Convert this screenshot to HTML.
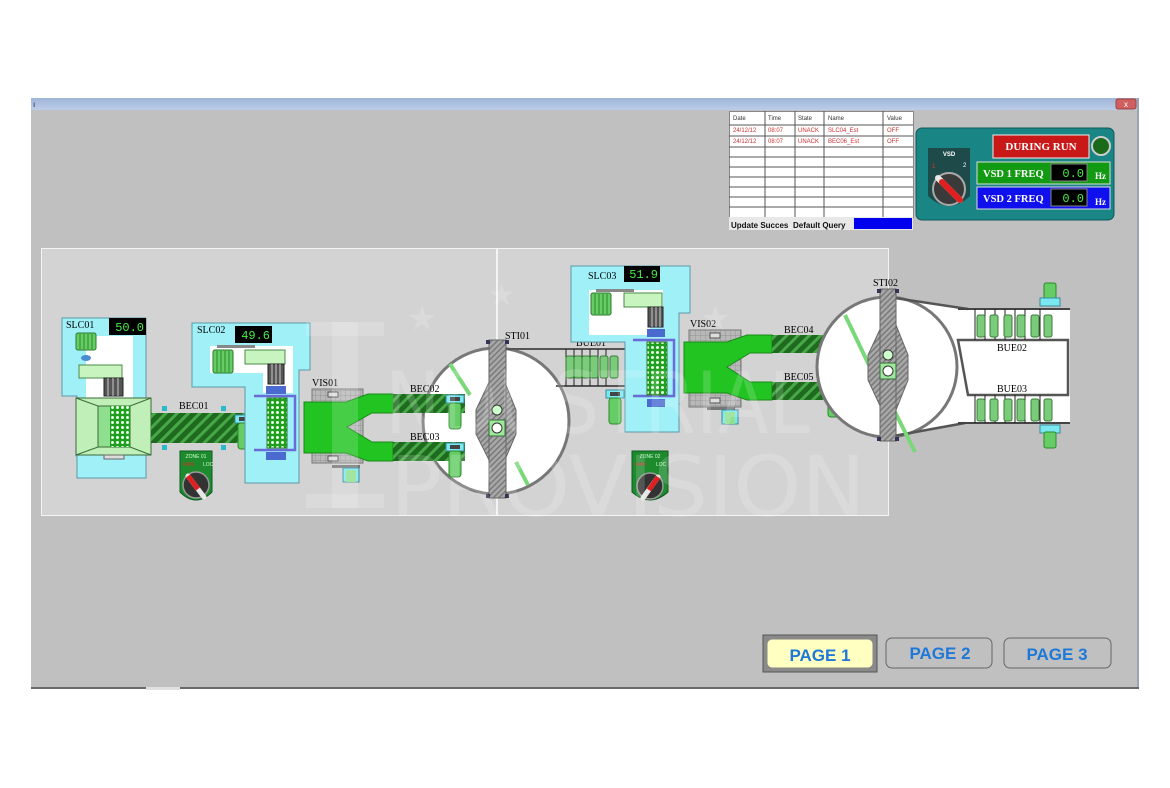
<!DOCTYPE html>
<html><head><meta charset="utf-8"><style>
html,body{margin:0;padding:0;background:#fff;}
body{width:1170px;height:788px;position:relative;overflow:hidden;font-family:"Liberation Sans",sans-serif;}
svg{position:absolute;left:0;top:0;}
</style></head><body>
<svg width="1170" height="788" viewBox="0 0 1170 788" xmlns="http://www.w3.org/2000/svg" font-family="Liberation Sans, sans-serif">
<defs>
<pattern id="belt" width="8" height="8" patternUnits="userSpaceOnUse" patternTransform="rotate(45)">
<rect width="8" height="8" fill="#1e6a1e"/><rect width="3" height="8" fill="#48a848"/>
</pattern>
<pattern id="grid" width="5" height="5" patternUnits="userSpaceOnUse">
<rect width="5" height="5" fill="#b8b8b8"/><path d="M0 0H5M0 0V5" stroke="#8a8a8a" stroke-width="0.7"/>
</pattern>
<pattern id="hatch" width="4" height="4" patternUnits="userSpaceOnUse" patternTransform="rotate(45)">
<rect width="4" height="4" fill="#a8a8a8"/><rect width="1.5" height="4" fill="#7a7a7a"/>
</pattern>
<pattern id="dots" width="5" height="5" patternUnits="userSpaceOnUse">
<rect width="5" height="5" fill="#1ea01e"/><circle cx="2.5" cy="2.5" r="1.5" fill="#e8ffe8"/>
</pattern>
<linearGradient id="tb" x1="0" y1="0" x2="0" y2="1"><stop offset="0" stop-color="#9fb4d8"/><stop offset="1" stop-color="#bccde8"/></linearGradient>
<g id="motorV">
<rect x="-9" y="0" width="18" height="8" fill="#7ae8f0" stroke="#3a8a9a"/>
<rect x="-5" y="2" width="10" height="4" fill="#444"/>
<rect x="-6" y="8" width="12" height="26" rx="3" fill="#66cc66" stroke="#2a8a2a"/>
</g>
<g id="roller"><rect x="-4" y="0" width="8" height="22" rx="2" fill="#7acc7a" stroke="#3a7a3a"/></g>
</defs>

<rect x="31" y="98" width="1107" height="591" fill="#c0c0c0"/>
<rect x="31" y="98" width="1107" height="12" fill="url(#tb)"/>
<text x="33" y="107" font-size="8" fill="#223">ı</text>
<rect x="1116" y="99" width="20" height="10" rx="2" fill="#d06060" stroke="#a04040"/>
<text x="1126" y="107" font-size="8" fill="#fff" text-anchor="middle">x</text>
<rect x="1137" y="98" width="2" height="591" fill="#9aa4b4"/>
<rect x="31" y="687" width="1108" height="2" fill="#6a6a6a"/>
<rect x="146" y="687" width="34" height="3" fill="#e0e0e0"/>

<rect x="41.5" y="248.5" width="455" height="267" fill="#d3d3d3" stroke="#f4f4f4"/>
<rect x="497.5" y="248.5" width="391" height="267" fill="#d3d3d3" stroke="#f4f4f4"/>

<!-- SLC01 -->
<path d="M62 318H146V478H77V456H76V398H77V396H62Z" fill="#a0f0f8" stroke="#5a9aa8"/>
<rect x="86" y="336" width="47" height="62" fill="#fff"/>
<rect x="109" y="318" width="37" height="17" fill="#000"/>
<text x="144" y="331" font-size="12" fill="#44ee44" text-anchor="end" font-family="Liberation Mono, monospace">50.0</text>
<text x="66" y="328" font-size="10" fill="#000" font-family="Liberation Serif, serif">SLC01</text>
<rect x="76" y="333" width="20" height="17" rx="2" fill="#66cc66" stroke="#2a7a2a"/>
<path d="M80 334V349M84 334V349M88 334V349M92 334V349" stroke="#2a8a2a"/>
<ellipse cx="86" cy="358" rx="5" ry="3" fill="#4a8ad0"/>
<rect x="79" y="365" width="43" height="13" fill="#c8f4c0" stroke="#4a8a4a"/>
<rect x="104" y="378" width="19" height="18" fill="#555" stroke="#222"/>
<path d="M108 378V396M113 378V396M118 378V396" stroke="#ccc"/>
<rect x="76" y="398" width="75" height="57" fill="#c0f0b8" stroke="#3a6a3a"/>
<path d="M76 398L98 406H130L151 398M76 455L98 447H130L151 455" fill="none" stroke="#3a6a3a"/>
<rect x="98" y="406" width="32" height="41" fill="#8ee08e" stroke="#3a6a3a"/>
<rect x="110" y="406" width="20" height="41" fill="url(#dots)"/>
<rect x="104" y="455" width="20" height="4" fill="#ddd" stroke="#666"/>

<rect x="151" y="413" width="112" height="30" fill="url(#belt)"/>
<text x="179" y="409" font-size="10" fill="#000" font-family="Liberation Serif, serif">BEC01</text>
<rect x="162" y="406" width="5" height="5" fill="#2abacb"/><rect x="162" y="445" width="5" height="5" fill="#2abacb"/>
<rect x="221" y="406" width="5" height="5" fill="#2abacb"/><rect x="221" y="445" width="5" height="5" fill="#2abacb"/>
<use href="#motorV" x="244" y="415"/>

<!-- SLC02 -->
<path d="M192 323H310V370H299V483H245V387H192Z" fill="#a0f0f8" stroke="#5a9aa8"/>
<path d="M210 346H293V393H263V373H210Z" fill="#fff"/>
<rect x="235" y="326" width="37" height="17" fill="#000"/>
<text x="270" y="339" font-size="12" fill="#44ee44" text-anchor="end" font-family="Liberation Mono, monospace">49.6</text>
<text x="197" y="333" font-size="10" fill="#000" font-family="Liberation Serif, serif">SLC02</text>
<rect x="217" y="345" width="38" height="3" fill="#888"/>
<rect x="213" y="350" width="20" height="23" rx="2" fill="#66cc66" stroke="#2a7a2a"/>
<path d="M217 351V372M221 351V372M225 351V372M229 351V372" stroke="#2a8a2a"/>
<rect x="245" y="350" width="40" height="14" fill="#c8f4c0" stroke="#4a8a4a"/>
<rect x="268" y="364" width="16" height="20" fill="#555" stroke="#222"/>
<path d="M272 364V384M276 364V384M280 364V384" stroke="#ccc"/>
<rect x="266" y="386" width="20" height="8" fill="#4a6ad0"/>
<path d="M254 396H295V450H254" fill="none" stroke="#6a6ad8" stroke-width="2.5"/>
<rect x="267" y="398" width="20" height="50" fill="url(#dots)" stroke="#2a7a2a"/>
<rect x="266" y="452" width="20" height="8" fill="#4a6ad0"/>

<path d="M180 451H212V492Q196 508 180 492Z" fill="#1e8a2e" stroke="#0e5a1e"/>
<text x="196" y="458" font-size="5" fill="#cfc" text-anchor="middle">ZONE 01</text>
<text x="183" y="466" font-size="5" fill="#d03020">MAN</text><text x="203" y="466" font-size="5" fill="#cfc">LOC</text>
<circle cx="196" cy="485" r="13" fill="#333" stroke="#999" stroke-width="1.5"/>
<path d="M188 476L204 497" stroke="#e8e8e8" stroke-width="5" stroke-linecap="round"/>
<path d="M188 476L198 489" stroke="#e02020" stroke-width="5"/>

<!-- STI01 -->
<circle cx="496" cy="421" r="73" fill="#fff" stroke="#777" stroke-width="3"/>
<path d="M450 364L470 395" stroke="#7ad87a" stroke-width="4"/>
<path d="M516 462L528 485" stroke="#7ad87a" stroke-width="4"/>
<path d="M490 380L476 410V434L490 462H504L516 434V410L504 380Z" fill="url(#hatch)" stroke="#666"/>
<rect x="489" y="340" width="17" height="158" fill="url(#hatch)" stroke="#666"/>
<rect x="486" y="340" width="4" height="4" fill="#335"/><rect x="505" y="340" width="4" height="4" fill="#335"/>
<rect x="486" y="494" width="4" height="4" fill="#335"/><rect x="505" y="494" width="4" height="4" fill="#335"/>
<circle cx="497" cy="410" r="5" fill="#cfc" stroke="#333"/>
<rect x="489" y="420" width="16" height="16" fill="#9ee89e" stroke="#3a6a3a"/>
<circle cx="497" cy="428" r="5" fill="#fff" stroke="#333"/>
<text x="505" y="339" font-size="10" fill="#000" font-family="Liberation Serif, serif">STI01</text>

<!-- VIS01 -->
<rect x="312" y="389" width="51" height="74" fill="url(#grid)" stroke="#777"/>
<rect x="328" y="392" width="10" height="5" fill="#ddd" stroke="#555"/>
<rect x="328" y="456" width="10" height="5" fill="#ddd" stroke="#555"/>
<rect x="332" y="465" width="28" height="3" fill="#777"/>
<rect x="343" y="468" width="16" height="14" fill="#7ae8f0" stroke="#3a8a9a"/><rect x="346" y="470" width="10" height="12" fill="#8ee08e"/>
<text x="312" y="386" font-size="10" fill="#000" font-family="Liberation Serif, serif">VIS01</text>
<polygon points="304,402 346,402 368,394 393,394 393,413 372,413 347,427 372,442 393,442 393,461 368,461 346,453 304,453" fill="#22c422" stroke="#1a8a1a"/>
<rect x="393" y="394" width="72" height="19" fill="url(#belt)"/>
<rect x="393" y="442" width="72" height="19" fill="url(#belt)"/>
<text x="410" y="392" font-size="10" fill="#000" font-family="Liberation Serif, serif">BEC02</text>
<text x="410" y="440" font-size="10" fill="#000" font-family="Liberation Serif, serif">BEC03</text>
<use href="#motorV" x="455" y="395"/>
<use href="#motorV" x="455" y="443"/>

<!-- BUE01 -->
<path d="M506 349H630M556 386H630" stroke="#555" stroke-width="2"/>
<path d="M566 349V386M574 349V386M582 349V386M590 349V386M598 349V386M606 349V386" stroke="#222"/>
<use href="#roller" x="570" y="356"/><use href="#roller" x="578" y="356"/><use href="#roller" x="586" y="356"/><use href="#roller" x="594" y="356"/><use href="#roller" x="604" y="356"/><use href="#roller" x="614" y="356"/>
<text x="576" y="346" font-size="10" fill="#000" font-family="Liberation Serif, serif">BUE01</text>

<!-- SLC03 -->
<path d="M571 266H690V313H679V432H625V342H571Z" fill="#a0f0f8" stroke="#5a9aa8"/>
<path d="M589 290H663V313H650V335H589Z" fill="#fff"/>
<rect x="624" y="266" width="36" height="16" fill="#000"/>
<text x="658" y="278" font-size="12" fill="#44ee44" text-anchor="end" font-family="Liberation Mono, monospace">51.9</text>
<text x="588" y="279" font-size="10" fill="#000" font-family="Liberation Serif, serif">SLC03</text>
<rect x="596" y="289" width="38" height="3" fill="#888"/>
<rect x="591" y="293" width="20" height="22" rx="2" fill="#66cc66" stroke="#2a7a2a"/>
<path d="M595 294V314M599 294V314M603 294V314M607 294V314" stroke="#2a8a2a"/>
<rect x="624" y="293" width="38" height="14" fill="#c8f4c0" stroke="#4a8a4a"/>
<rect x="648" y="307" width="15" height="20" fill="#555" stroke="#222"/>
<path d="M652 307V327M656 307V327M660 307V327" stroke="#ccc"/>
<rect x="647" y="329" width="18" height="8" fill="#4a6ad0"/>
<path d="M633 340H674V396H633" fill="none" stroke="#6a6ad8" stroke-width="2.5"/>
<rect x="647" y="342" width="20" height="53" fill="url(#dots)" stroke="#2a7a2a"/>
<rect x="647" y="399" width="18" height="8" fill="#4a6ad0"/>
<use href="#motorV" x="615" y="390"/>

<path d="M632 451H668V492Q650 508 632 492Z" fill="#1e8a2e" stroke="#0e5a1e"/>
<text x="650" y="458" font-size="5" fill="#cfc" text-anchor="middle">ZONE 02</text>
<text x="635" y="466" font-size="5" fill="#d03020">MAN</text><text x="656" y="466" font-size="5" fill="#cfc">LOC</text>
<circle cx="650" cy="486" r="13" fill="#333" stroke="#999" stroke-width="1.5"/>
<path d="M658 477L643 498" stroke="#e8e8e8" stroke-width="5" stroke-linecap="round"/>
<path d="M658 477L649 490" stroke="#e02020" stroke-width="5"/>

<!-- VIS02 -->
<rect x="689" y="330" width="52" height="77" fill="url(#grid)" stroke="#777"/>
<rect x="710" y="333" width="10" height="5" fill="#ddd" stroke="#555"/>
<rect x="710" y="398" width="10" height="5" fill="#ddd" stroke="#555"/>
<rect x="707" y="407" width="28" height="3" fill="#777"/>
<rect x="722" y="410" width="16" height="14" fill="#7ae8f0" stroke="#3a8a9a"/><rect x="725" y="412" width="10" height="12" fill="#8ee08e"/>
<text x="690" y="327" font-size="10" fill="#000" font-family="Liberation Serif, serif">VIS02</text>
<polygon points="684,342 727,342 747,335 772,335 772,353 750,353 727,367 750,382 772,382 772,400 747,400 727,393 684,393" fill="#22c422" stroke="#1a8a1a"/>
<rect x="772" y="335" width="73" height="18" fill="url(#belt)"/>
<rect x="772" y="382" width="73" height="18" fill="url(#belt)"/>
<text x="784" y="333" font-size="10" fill="#000" font-family="Liberation Serif, serif">BEC04</text>
<text x="784" y="380" font-size="10" fill="#000" font-family="Liberation Serif, serif">BEC05</text>
<use href="#motorV" x="834" y="336"/>
<use href="#motorV" x="834" y="383"/>

<!-- STI02 -->
<path d="M888 297L968 309H1070V423H965L888 437Z" fill="#fff"/>
<circle cx="887" cy="367" r="70" fill="#fff" stroke="#777" stroke-width="3"/>
<path d="M888 297L968 309M888 437L965 423" stroke="#555" stroke-width="2.5"/>
<path d="M958 309H1070M958 423H1070" stroke="#444" stroke-width="2"/>
<polygon points="958,340 1068,340 1068,395 968,395" fill="#fff" stroke="#555" stroke-width="2.5"/>
<path d="M975 309V340M985 309V340M995 309V340M1005 309V340M1015 309V340M1025 309V340M1040 309V340M975 395V423M985 395V423M995 395V423M1005 395V423M1015 395V423M1025 395V423M1040 395V423" stroke="#222"/>
<use href="#roller" x="981" y="315"/><use href="#roller" x="994" y="315"/><use href="#roller" x="1008" y="315"/><use href="#roller" x="1021" y="315"/><use href="#roller" x="1035" y="315"/><use href="#roller" x="1048" y="315"/>
<use href="#roller" x="981" y="399"/><use href="#roller" x="994" y="399"/><use href="#roller" x="1008" y="399"/><use href="#roller" x="1021" y="399"/><use href="#roller" x="1035" y="399"/><use href="#roller" x="1048" y="399"/>
<text x="997" y="351" font-size="10" fill="#000" font-family="Liberation Serif, serif">BUE02</text>
<text x="997" y="392" font-size="10" fill="#000" font-family="Liberation Serif, serif">BUE03</text>
<rect x="1044" y="283" width="12" height="17" rx="2" fill="#66cc66" stroke="#2a8a2a"/>
<rect x="1040" y="298" width="20" height="8" fill="#7ae8f0" stroke="#3a8a9a"/>
<rect x="1040" y="425" width="20" height="8" fill="#7ae8f0" stroke="#3a8a9a"/>
<rect x="1044" y="432" width="12" height="16" rx="2" fill="#66cc66" stroke="#2a8a2a"/>
<path d="M845 315L880 388" stroke="#7ad87a" stroke-width="4"/>
<path d="M893 408L915 452" stroke="#7ad87a" stroke-width="4"/>
<path d="M882 325L868 355V380L882 410H896L908 380V355L896 325Z" fill="url(#hatch)" stroke="#666"/>
<rect x="880" y="289" width="16" height="152" fill="url(#hatch)" stroke="#666"/>
<rect x="877" y="289" width="4" height="4" fill="#335"/><rect x="895" y="289" width="4" height="4" fill="#335"/>
<rect x="877" y="437" width="4" height="4" fill="#335"/><rect x="895" y="437" width="4" height="4" fill="#335"/>
<circle cx="888" cy="355" r="5" fill="#cfc" stroke="#333"/>
<rect x="880" y="363" width="16" height="16" fill="#9ee89e" stroke="#3a6a3a"/>
<circle cx="888" cy="371" r="5" fill="#fff" stroke="#333"/>
<text x="873" y="286" font-size="10" fill="#000" font-family="Liberation Serif, serif">STI02</text>

<!-- watermark -->
<g fill="#ffffff" fill-opacity="0.17">
<rect x="306" y="322" width="78" height="14"/><rect x="332" y="322" width="26" height="186"/><rect x="306" y="494" width="78" height="14"/>
<text x="385" y="433" font-size="86" font-family="DejaVu Sans, sans-serif" textLength="425" lengthAdjust="spacingAndGlyphs">NDUSTRIAL</text>
<text x="390" y="516" font-size="84" font-family="DejaVu Sans, sans-serif" textLength="476" lengthAdjust="spacingAndGlyphs">PROVISION</text>
<text x="407" y="330" font-size="34">★</text><text x="488" y="305" font-size="30">★</text><text x="700" y="330" font-size="34">★</text>
</g>

<!-- alarm table -->
<rect x="729.5" y="111.5" width="184" height="106" fill="#fff" stroke="#888"/>
<g stroke="#555" stroke-width="1">
<path d="M729 125H913M729 136H913M729 147H913M729 157H913M729 167H913M729 177H913M729 187H913M729 197H913M729 207H913"/>
<path d="M765 111V217M795 111V217M824 111V217M883 111V217"/>
</g>
<g font-size="6" fill="#333"><text x="733" y="120">Date</text><text x="768" y="120">Time</text><text x="798" y="120">State</text><text x="828" y="120">Name</text><text x="887" y="120">Value</text></g>
<g font-size="6" fill="#d03030"><text x="733" y="132">24/12/12</text><text x="768" y="132">08:07</text><text x="798" y="132">UNACK</text><text x="828" y="132">SLC04_Est</text><text x="887" y="132">OFF</text>
<text x="733" y="143">24/12/12</text><text x="768" y="143">08:07</text><text x="798" y="143">UNACK</text><text x="828" y="143">BEC06_Est</text><text x="887" y="143">OFF</text></g>
<rect x="729" y="217" width="184" height="13" fill="#e8e8e8"/>
<text x="731" y="228" font-size="8" font-weight="bold" fill="#111">Update Succes</text>
<text x="793" y="228" font-size="8" font-weight="bold" fill="#111">Default Query</text>
<rect x="854" y="218" width="58" height="11" fill="#0000ee"/>

<!-- VSD panel -->
<rect x="916" y="128" width="198" height="92" rx="6" fill="#1a8585" stroke="#0e5a5a"/>
<path d="M928 148H970V196Q949 216 928 196Z" fill="#1e4a4a"/>
<text x="949" y="156" font-size="6" fill="#fff" font-weight="bold" text-anchor="middle">VSD</text>
<text x="932" y="168" font-size="6" fill="#e03030">1</text><text x="963" y="167" font-size="6" fill="#fff">2</text>
<circle cx="949" cy="189" r="16" fill="#3a3a3a" stroke="#aaa" stroke-width="2"/>
<path d="M938 178L960 200" stroke="#e8e8e8" stroke-width="6" stroke-linecap="round"/>
<path d="M942 182L960 200" stroke="#e02020" stroke-width="6" stroke-linecap="round"/>
<rect x="993" y="135" width="96" height="23" fill="#c81818" stroke="#eee"/>
<text x="1041" y="150" font-size="11" font-weight="bold" fill="#fff" text-anchor="middle" font-family="Liberation Serif, serif">DURING RUN</text>
<circle cx="1101" cy="146" r="9" fill="#1a6a1a" stroke="#ccc" stroke-width="2"/>
<rect x="977" y="162" width="133" height="22" fill="#139a13" stroke="#ddd"/>
<text x="983" y="177" font-size="10.5" font-weight="bold" fill="#fff" font-family="Liberation Serif, serif">VSD 1 FREQ</text>
<rect x="1051" y="164" width="36" height="17" fill="#000" stroke="#888"/>
<text x="1084" y="177" font-size="12" fill="#44ee44" text-anchor="end" font-family="Liberation Mono, monospace">0.0</text>
<text x="1095" y="179" font-size="9" font-weight="bold" fill="#fff" font-family="Liberation Serif, serif">Hz</text>
<rect x="977" y="187" width="133" height="22" fill="#1010ee" stroke="#ddd"/>
<text x="983" y="202" font-size="10.5" font-weight="bold" fill="#fff" font-family="Liberation Serif, serif">VSD 2 FREQ</text>
<rect x="1051" y="189" width="36" height="17" fill="#000" stroke="#888"/>
<text x="1084" y="202" font-size="12" fill="#44ee44" text-anchor="end" font-family="Liberation Mono, monospace">0.0</text>
<text x="1095" y="205" font-size="9" font-weight="bold" fill="#fff" font-family="Liberation Serif, serif">Hz</text>

<!-- page buttons -->
<rect x="763" y="635" width="114" height="37" fill="#8a8a8a" stroke="#555"/>
<rect x="767" y="639" width="106" height="29" rx="5" fill="#ffffc2" stroke="#888"/>
<text x="820" y="661" font-size="17" font-weight="bold" fill="#1e78d8" text-anchor="middle">PAGE 1</text>
<rect x="886" y="638" width="106" height="30" rx="6" fill="#c0c0c0" stroke="#666"/>
<text x="940" y="659" font-size="17" font-weight="bold" fill="#1e78d8" text-anchor="middle">PAGE 2</text>
<rect x="1004" y="638" width="107" height="30" rx="6" fill="#c0c0c0" stroke="#666"/>
<text x="1057" y="660" font-size="17" font-weight="bold" fill="#1e78d8" text-anchor="middle">PAGE 3</text>
</svg>
</body></html>
